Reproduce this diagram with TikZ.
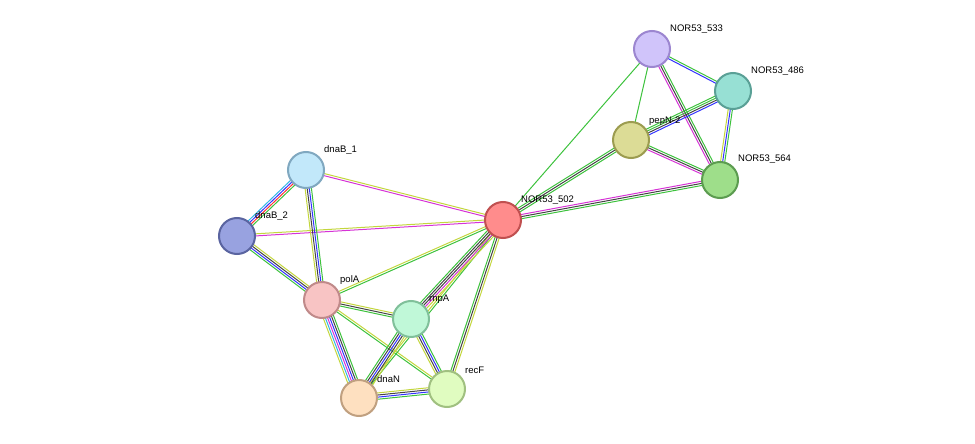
\documentclass[tikz,border=0pt]{standalone}
\usepackage{fontspec}
\setmainfont{Liberation Sans}
\usetikzlibrary{calc}
\definecolor{cg}{HTML}{3DC23D}
\definecolor{ck}{HTML}{444444}
\definecolor{cb}{HTML}{3333FF}
\definecolor{cm}{HTML}{D633D6}
\definecolor{cy}{HTML}{C3D63D}
\definecolor{cr}{HTML}{FF3333}
\definecolor{cc}{HTML}{33B5E5}
\definecolor{f533}{HTML}{D0C4FA}\definecolor{d533}{HTML}{9C86D0}
\definecolor{f486}{HTML}{97E0D4}\definecolor{d486}{HTML}{5AA096}
\definecolor{fpep}{HTML}{DCDC96}\definecolor{dpep}{HTML}{9C9C50}
\definecolor{f564}{HTML}{9EDE8A}\definecolor{d564}{HTML}{5C9C50}
\definecolor{f502}{HTML}{FF8C8C}\definecolor{d502}{HTML}{C05050}
\definecolor{fb1}{HTML}{C2E8FA}\definecolor{db1}{HTML}{80A8C0}
\definecolor{fb2}{HTML}{98A2E0}\definecolor{db2}{HTML}{5A64A0}
\definecolor{fpol}{HTML}{F8C4C4}\definecolor{dpol}{HTML}{C08A8A}
\definecolor{frnp}{HTML}{C0F8D8}\definecolor{drnp}{HTML}{80C09A}
\definecolor{frec}{HTML}{E0FCC0}\definecolor{drec}{HTML}{A0C080}
\definecolor{fdna}{HTML}{FEE0C0}\definecolor{ddna}{HTML}{C0A080}
\newcommand\edg[4]{%
  \foreach \c [count=\i] in {#4} {%
    \pgfmathsetmacro\o{(\i-1)*2.1-(#3-1)*1.05}%
    \draw[line width=1pt,draw=\c] ($(#1)!\o pt!90:(#2)$) -- ($(#2)!\o pt!-90:(#1)$);
  }}
\tikzset{
  prot/.style={circle,minimum size=36pt,inner sep=0pt,line width=2pt},
  lab/.style={font=\fontsize{9.5pt}{10pt}\selectfont,anchor=south west,inner sep=0pt}
}
\begin{document}
\begin{tikzpicture}[x=1pt,y=-1pt]
\useasboundingbox (0,0) rectangle (975,444);
\coordinate (n533) at (652,49);
\coordinate (n486) at (733,91);
\coordinate (pep) at (631,140);
\coordinate (n564) at (720,180);
\coordinate (n502) at (503,220);
\coordinate (b1) at (306,170);
\coordinate (b2) at (237,236);
\coordinate (pol) at (322,300);
\coordinate (rnp) at (411,319);
\coordinate (rec) at (447,389);
\coordinate (dna) at (359,398);
\edg{b1}{b2}{4}{cc,cb,cr,cg}
\edg{b1}{n502}{2}{cm,cy}
\edg{b2}{n502}{2}{cm,cy}
\edg{b1}{pol}{4}{cy,ck,cb,cg}
\edg{b2}{pol}{4}{cg,cb,ck,cy}
\edg{pol}{n502}{2}{cg,cy}
\edg{pol}{rnp}{3}{cg,ck,cy}
\edg{pol}{dna}{6}{cy,cc,cm,cb,ck,cg}
\edg{pol}{rec}{2}{cg,cy}
\edg{n502}{dna}{2}{cy,cg}
\edg{n502}{rnp}{5}{cg,ck,ck,cm,cy}
\edg{n502}{rec}{3}{cg,ck,cy}
\edg{rnp}{rec}{4}{cy,ck,cb,cg}
\edg{rnp}{dna}{5}{cg,ck,cb,ck,cy}
\edg{dna}{rec}{4}{cg,cb,ck,cy}
\edg{n502}{n533}{1}{cg}
\edg{n502}{pep}{3}{cg,ck,cg}
\edg{n502}{n564}{3}{cg,ck,cm}
\edg{n533}{pep}{1}{cg}
\edg{n533}{n486}{2}{cb,cg}
\edg{n533}{n564}{3}{cm,ck,cg}
\edg{pep}{n486}{4}{cb,ck,cg,cg}
\edg{pep}{n564}{3}{cm,ck,cg}
\edg{n486}{n564}{3}{cy,cb,cg}
\node[prot,fill=f533,draw=d533] (N533) at (n533) {};
\node[prot,fill=f486,draw=d486] (N486) at (n486) {};
\node[prot,fill=fpep,draw=dpep] (PEP) at (pep) {};
\node[prot,fill=f564,draw=d564] (N564) at (n564) {};
\node[prot,fill=f502,draw=d502] (N502) at (n502) {};
\node[prot,fill=fb1,draw=db1] (B1) at (b1) {};
\node[prot,fill=fb2,draw=db2] (B2) at (b2) {};
\node[prot,fill=fpol,draw=dpol] (POL) at (pol) {};
\node[prot,fill=frnp,draw=drnp] (RNP) at (rnp) {};
\node[prot,fill=frec,draw=drec] (REC) at (rec) {};
\node[prot,fill=fdna,draw=ddna] (DNA) at (dna) {};
\node[lab] (l533) at (670,34) {NOR53\_533};
\node[lab] (l486) at (751,76) {NOR53\_486};
\node[lab] (lpep) at (649,126) {pepN-2};
\node[lab] (l564) at (738,164) {NOR53\_564};
\node[lab] (l502) at (521,205) {NOR53\_502};
\node[lab] (lb1) at (324,155) {dnaB\_1};
\node[lab] (lb2) at (255,221) {dnaB\_2};
\node[lab] (lpol) at (340,285) {polA};
\node[lab] (lrnp) at (429,304) {rnpA};
\node[lab] (lrec) at (465,374) {recF};
\node[lab] (ldna) at (377,383) {dnaN};
\end{tikzpicture}
\end{document}
